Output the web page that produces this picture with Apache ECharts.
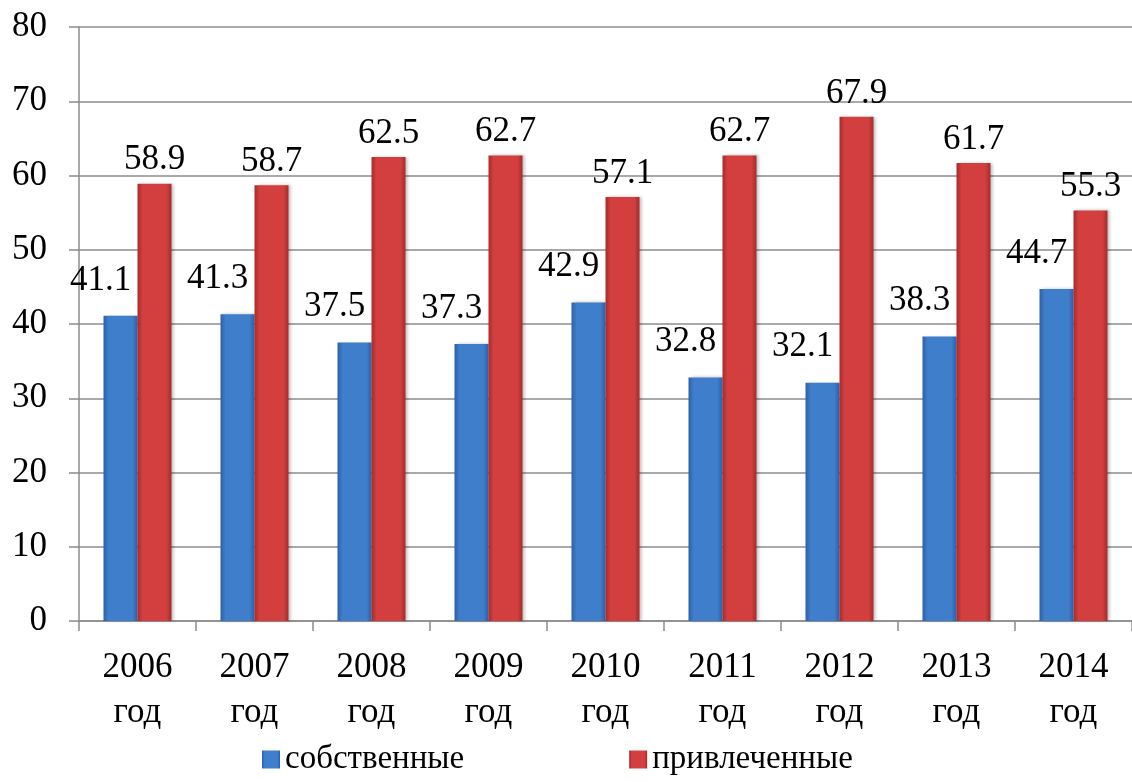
<!DOCTYPE html>
<html>
<head>
<meta charset="utf-8">
<script src="https://cdn.jsdelivr.net/npm/echarts@6/dist/echarts.min.js"></script>
<style>
  html, body { margin: 0; padding: 0; background: #fff; }
  #chart { width: 1132px; height: 782px; }
</style>
</head>
<body>
<div id="chart"></div>
<script>
var years = ['2006 год', '2007 год', '2008 год', '2009 год', '2010 год', '2011 год', '2012 год', '2013 год', '2014 год'];
var own = [41.1, 41.3, 37.5, 37.3, 42.9, 32.8, 32.1, 38.3, 44.7];
var borrowed = [58.9, 58.7, 62.5, 62.7, 57.1, 62.7, 67.9, 61.7, 55.3];
var yTicks = { min: 0, max: 80, interval: 10 };

var font = "'Liberation Serif', 'Times New Roman', serif";

function barGrad(edge, mid) {
    return new echarts.graphic.LinearGradient(0, 0, 1, 0, [
        { offset: 0, color: edge },
        { offset: 0.15, color: mid },
        { offset: 0.85, color: mid },
        { offset: 1, color: edge }
    ]);
}

var chart = echarts.init(document.getElementById('chart'));
var option = {
    animation: false,
    textStyle: { fontFamily: font },
    grid: { left: 79, top: 27, width: 1062, height: 594 },
    legend: {
        left: 257,
        bottom: 1,
        itemWidth: 18,
        itemHeight: 18,
        itemGap: 165,
        icon: 'rect',
        textStyle: { fontFamily: font, fontSize: 33, color: '#000' },
        data: ['собственные', 'привлеченные']
    },
    xAxis: {
        type: 'category',
        data: years,
        axisLine: { lineStyle: { color: '#8c8c8c', width: 1.5 } },
        axisTick: { show: true, length: 10, lineStyle: { color: '#8c8c8c', width: 1.5 } },
        axisLabel: {
            margin: 24,
            fontFamily: font,
            fontSize: 35,
            lineHeight: 45,
            color: '#000',
            formatter: function (v) { return v.replace(' ', '\n'); }
        }
    },
    yAxis: {
        type: 'value',
        min: yTicks.min,
        max: yTicks.max,
        interval: yTicks.interval,
        axisLine: { show: true, lineStyle: { color: '#8c8c8c', width: 1.5 } },
        axisTick: { show: true, length: 10, lineStyle: { color: '#8c8c8c', width: 1.5 } },
        splitLine: { lineStyle: { color: '#8c8c8c', width: 1.5 } },
        axisLabel: { margin: 32, fontFamily: font, fontSize: 35, color: '#000' }
    },
    series: [
        {
            name: 'собственные',
            type: 'bar',
            data: own,
            barWidth: 34,
            barGap: '0%',
            itemStyle: {
                color: barGrad('#2c5fa8', '#3f7ecb'),
                shadowColor: 'rgba(0,0,0,0.25)', shadowBlur: 3, shadowOffsetX: 2
            },
            label: {
                show: true, position: 'top', distance: 18, offset: [-20, 0],
                fontFamily: font, fontSize: 35, color: '#000'
            }
        },
        {
            name: 'привлеченные',
            type: 'bar',
            data: borrowed,
            barWidth: 34,
            itemStyle: {
                color: barGrad('#a52b2b', '#d33f3f'),
                shadowColor: 'rgba(0,0,0,0.25)', shadowBlur: 3, shadowOffsetX: 2
            },
            label: {
                show: true, position: 'top', distance: 6,
                fontFamily: font, fontSize: 35, color: '#000'
            }
        }
    ]
};
chart.setOption(option);
</script>
</body>
</html>
